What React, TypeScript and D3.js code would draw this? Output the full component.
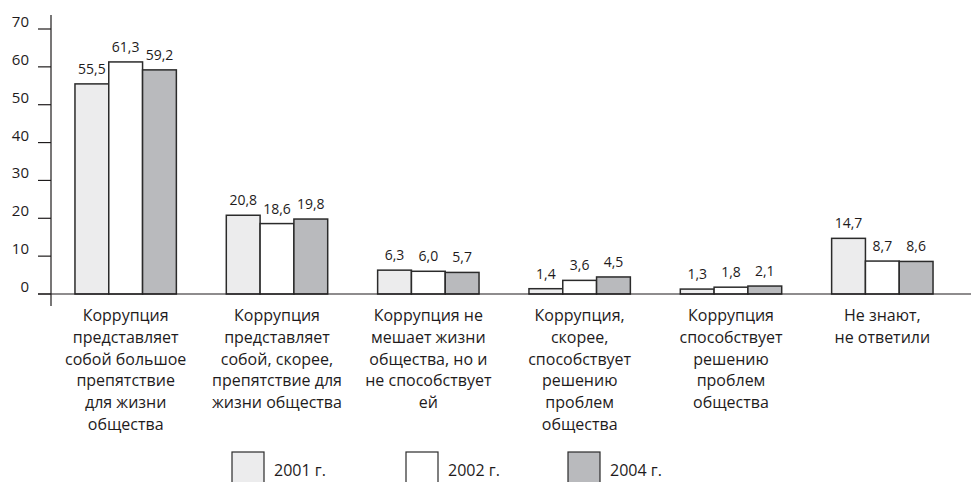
import React, { useEffect, useRef } from 'react';
import * as d3 from 'd3';

const categories = [
  ['Коррупция', 'представляет', 'собой большое', 'препятствие', 'для жизни', 'общества'],
  ['Коррупция', 'представляет', 'собой, скорее,', 'препятствие для', 'жизни общества'],
  ['Коррупция не', 'мешает жизни', 'общества, но и', 'не способствует', 'ей'],
  ['Коррупция,', 'скорее,', 'способствует', 'решению', 'проблем', 'общества'],
  ['Коррупция', 'способствует', 'решению', 'проблем', 'общества'],
  ['Не знают,', 'не ответили'],
];
const years = ['2001 г.', '2002 г.', '2004 г.'];
const values2001 = [55.5, 20.8, 6.3, 1.4, 1.3, 14.7];
const values2002 = [61.3, 18.6, 6.0, 3.6, 1.8, 8.7];
const values2004 = [59.2, 19.8, 5.7, 4.5, 2.1, 8.6];
const yTicks = [0, 10, 20, 30, 40, 50, 60, 70];
const colors = ['#ececed', '#ffffff', '#b9babd'];

const W = 971;
const H = 482;
const FONT = '"Open Sans", "Noto Sans", sans-serif';
const INK = '#1e1b1c';

export default function App() {
  const svgRef = useRef<SVGSVGElement | null>(null);

  useEffect(() => {
    const svg = d3.select(svgRef.current);
    svg.selectAll('*').remove();

    const series = [values2001, values2002, values2004];
    const idx = d3.range(categories.length);

    const x = d3.scaleBand<number>().domain(idx).range([50, 958]).paddingInner(0.33).paddingOuter(0.165);
    const xs = d3.scaleBand<number>().domain([0, 1, 2]).range([0, x.bandwidth()]);
    const y = d3.scaleLinear().domain([0, 70]).range([294, 29]);

    const axisX = 51;

    // y axis
    svg.append('line')
      .attr('x1', axisX).attr('x2', axisX)
      .attr('y1', 15).attr('y2', 306)
      .attr('stroke', INK).attr('stroke-width', 1.2);

    const ticks = svg.append('g');
    ticks.selectAll('line')
      .data(yTicks)
      .join('line')
      .attr('x1', 38).attr('x2', axisX)
      .attr('y1', d => y(d)).attr('y2', d => y(d))
      .attr('stroke', INK).attr('stroke-width', 1.2);
    ticks.selectAll('text')
      .data(yTicks)
      .join('text')
      .attr('x', 29)
      .attr('y', d => y(d) - 2)
      .attr('text-anchor', 'end')
      .attr('font-family', FONT)
      .attr('font-size', 15)
      .attr('fill', INK)
      .text(d => d);

    // bars
    const groups = svg.append('g')
      .selectAll('g')
      .data(idx)
      .join('g')
      .attr('transform', d => `translate(${x(d)},0)`);

    groups.selectAll('rect')
      .data(i => series.map((s, k) => ({ k, v: s[i] })))
      .join('rect')
      .attr('x', d => xs(d.k)!)
      .attr('y', d => y(d.v))
      .attr('width', xs.bandwidth())
      .attr('height', d => y(0) - y(d.v))
      .attr('fill', d => colors[d.k])
      .attr('stroke', '#2b2b2b')
      .attr('stroke-width', 1.5);

    groups.selectAll('text')
      .data(i => series.map((s, k) => ({ k, v: s[i] })))
      .join('text')
      .attr('x', d => xs(d.k)! + xs.bandwidth() / 2)
      .attr('y', d => y(d.v) - 10)
      .attr('text-anchor', 'middle')
      .attr('font-family', FONT)
      .attr('font-size', 14)
      .attr('fill', INK)
      .text(d => d3.format('.1f')(d.v).replace('.', ','));

    // baseline
    svg.append('line')
      .attr('x1', 38).attr('x2', W)
      .attr('y1', y(0)).attr('y2', y(0))
      .attr('stroke', INK).attr('stroke-width', 1.2);

    // category labels
    const lab = svg.append('g')
      .selectAll('text')
      .data(idx)
      .join('text')
      .attr('x', d => x(d)! + x.bandwidth() / 2)
      .attr('y', 321)
      .attr('text-anchor', 'middle')
      .attr('font-family', FONT)
      .attr('font-size', 16)
      .attr('fill', INK);
    lab.selectAll('tspan')
      .data(d => categories[d])
      .join('tspan')
      .attr('x', function () {
        return (this as any).parentNode.getAttribute('x');
      })
      .attr('dy', (_d, j) => (j === 0 ? 0 : 21.8))
      .text(d => d);

    // legend
    const legendX = [232, 406, 568];
    const leg = svg.append('g')
      .selectAll('g')
      .data(years)
      .join('g')
      .attr('transform', (_d, i) => `translate(${legendX[i]},452)`);
    leg.append('rect')
      .attr('width', 32).attr('height', 34)
      .attr('fill', (_d, i) => colors[i])
      .attr('stroke', '#2b2b2b').attr('stroke-width', 1.2);
    leg.append('text')
      .attr('x', 42).attr('y', 24)
      .attr('font-family', FONT)
      .attr('font-size', 16)
      .attr('fill', INK)
      .text(d => d);
  }, []);

  return (
    <div style={{ position: 'absolute', left: 0, top: 0 }}>
      <svg ref={svgRef} width={W} height={H} style={{ display: 'block', background: '#fff' }}></svg>
    </div>
  );
}
